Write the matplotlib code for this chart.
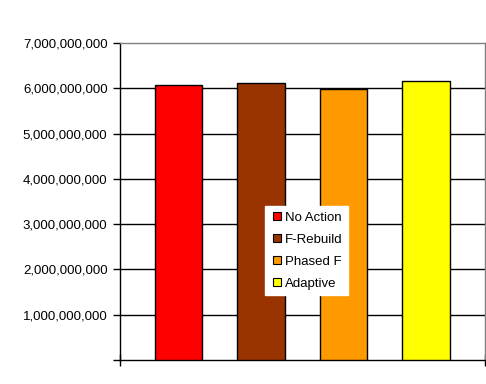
import matplotlib.pyplot as plt
import matplotlib.ticker as ticker
from matplotlib.lines import Line2D

plt.rcParams['font.family'] = ['Liberation Sans', 'DejaVu Sans']
plt.rcParams['font.size'] = 9.5

# данные
series = ["No Action", "F-Rebuild", "Phased F", "Adaptive"]
values = [6.07e9, 6.11e9, 5.99e9, 6.15e9]
colors = ["#ff0000", "#993300", "#ff9900", "#ffff00"]
yticks = [0, 1e9, 2e9, 3e9, 4e9, 5e9, 6e9, 7e9]

fig = plt.figure(figsize=(4.86, 3.84), dpi=100)
ax = fig.add_axes([120 / 486, 24 / 384, 365 / 486, 317 / 384])

xpos = list(range(len(series)))
ax.bar(xpos, values, width=0.57, color=colors, edgecolor='black',
       linewidth=1, zorder=3)

ax.set_xlim(-0.709, 3.715)
ax.set_ylim(0, 7e9)
ax.set_yticks(yticks)
ax.yaxis.set_major_formatter(ticker.FuncFormatter(
    lambda v, p: "" if v == 0 else f"{v:,.0f}"))
ax.tick_params(axis='y', direction='out', length=5, width=1, pad=4,
               colors='black')
ax.set_xticks([-0.709, 3.715])
ax.set_xticklabels(["", ""])
ax.tick_params(axis='x', direction='inout', length=8, width=1)

# линии сетки
for y in yticks[1:-1]:
    ax.axhline(y, color='black', linewidth=1, zorder=1)

ax.spines['top'].set_color('#808080')
ax.spines['right'].set_color('#808080')
ax.spines['left'].set_color('black')
ax.spines['bottom'].set_color('black')
for s in ax.spines.values():
    s.set_linewidth(1)

handles = [Line2D([0], [0], marker='s', linestyle='none', markersize=6,
                  markerfacecolor=c, markeredgecolor='black',
                  markeredgewidth=0.8) for c in colors]
leg = ax.legend(handles, series, loc='upper left',
                bbox_to_anchor=((265 - 120) / 365, (360 - 206) / 317),
                frameon=True, fancybox=False, handletextpad=0.1,
                borderpad=0.4, labelspacing=0.75, handlelength=1.0,
                fontsize=9.5, borderaxespad=0)
leg.get_frame().set_edgecolor('white')
leg.get_frame().set_facecolor('white')
leg.get_frame().set_alpha(1)
leg.set_zorder(5)

fig.savefig('out.png', dpi=100)
